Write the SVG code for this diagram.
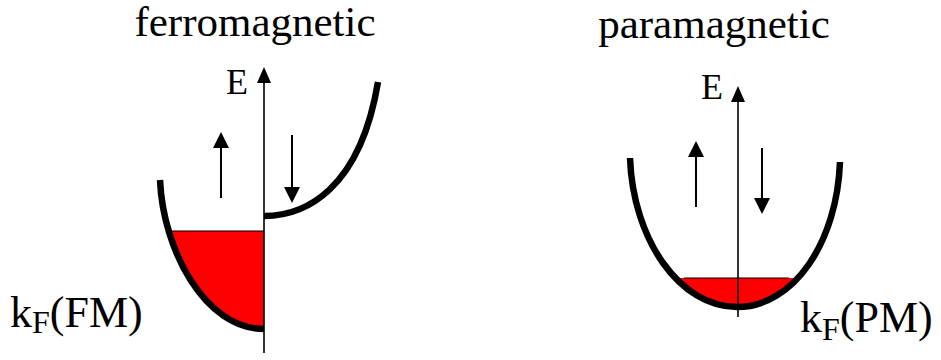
<svg xmlns="http://www.w3.org/2000/svg" width="941" height="360" viewBox="0 0 941 360">
<style>
  text { font-family: "Liberation Serif", "Times New Roman", serif; fill: #000; }
  .title { font-size: 43px; text-anchor: middle; }
  .elabel { font-size: 36px; }
  .kf { font-size: 44px; }
  .band { fill: none; stroke: #000; stroke-width: 6.5; stroke-linecap: butt; }
  .fill { fill: #ff0000; stroke: none; }
  .fermi { stroke: #000; stroke-width: 1.2; }
  .axis { stroke: #000; stroke-width: 1.6; fill: none; }
  .spin { stroke: #000; stroke-width: 2; fill: none; }
</style>
<defs>
  <marker id="axhead" viewBox="0 0 16 14" refX="0" refY="7" markerWidth="16" markerHeight="14" markerUnits="userSpaceOnUse" orient="auto">
    <path d="M0,0 L16,7 L0,14 Z" fill="#000"/>
  </marker>
  <marker id="spinhead" viewBox="0 0 16 16" refX="0" refY="8" markerWidth="16" markerHeight="16" markerUnits="userSpaceOnUse" orient="auto">
    <path d="M0,0 L16,8 L0,16 Z" fill="#000"/>
  </marker>
  <clipPath id="clipFM"><rect x="0" y="231" width="941" height="129"/></clipPath>
  <clipPath id="clipPM"><rect x="0" y="278" width="941" height="82"/></clipPath>
</defs>
<rect width="941" height="360" fill="#fff"/>

<g id="fm-title"><text class="title" x="255" y="36">ferromagnetic</text></g>
<g id="pm-title"><text class="title" x="714" y="38">paramagnetic</text></g>

<g id="fm-plot">
  <path class="fill" clip-path="url(#clipFM)" d="M160,180 C163,250 205,329 264,329 L264,180 Z"/>
  <line class="fermi" x1="170" y1="231" x2="264" y2="231"/>
  <path class="band" d="M160,180 C163,250 205,329 264,329"/>
  <path class="band" d="M264,216 C305,216 360,190 378,82"/>
  <text class="elabel" x="226" y="94">E</text>
</g>

<g id="pm-plot">
  <path class="fill" clip-path="url(#clipPM)" d="M630,158 C633,240 680,307 737,307 C794,307 837,242 840,162 Z"/>
  <line class="fermi" x1="684" y1="278" x2="789" y2="278"/>
  <path class="band" d="M630,158 C633,240 680,307 737,307 C794,307 837,242 840,162"/>
  <text class="elabel" x="701" y="99">E</text>
</g>

<g id="fm-kf"><text class="kf" x="10" y="327">k<tspan font-size="32" dy="6">F</tspan><tspan dy="-6">(FM)</tspan></text></g>
<g id="pm-kf"><text class="kf" x="800" y="332">k<tspan font-size="32" dy="8">F</tspan><tspan dy="-8">(PM)</tspan></text></g>

<g id="connectors">
  <line class="axis" x1="264" y1="353" x2="264" y2="83" marker-end="url(#axhead)"/>
  <line class="axis" x1="738" y1="317" x2="738" y2="102" marker-end="url(#axhead)"/>
  <line class="spin" x1="221" y1="198" x2="221" y2="148" marker-end="url(#spinhead)"/>
  <line class="spin" x1="292" y1="135" x2="292" y2="187" marker-end="url(#spinhead)"/>
  <line class="spin" x1="696" y1="207" x2="696" y2="157" marker-end="url(#spinhead)"/>
  <line class="spin" x1="762" y1="148" x2="762" y2="198" marker-end="url(#spinhead)"/>
</g>
</svg>
